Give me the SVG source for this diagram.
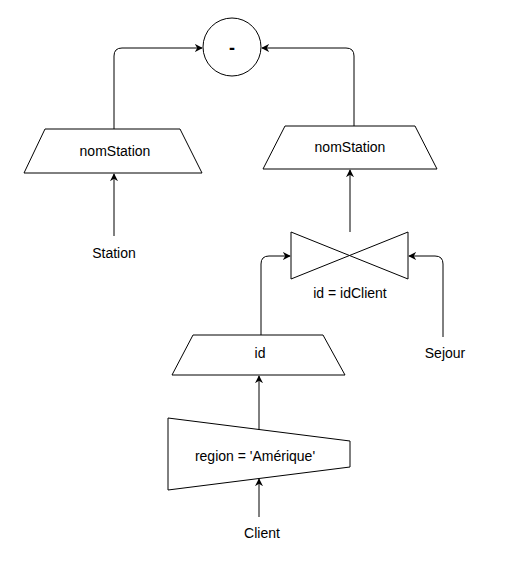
<svg xmlns="http://www.w3.org/2000/svg" width="507" height="562" viewBox="0 0 507 562">
<style>
.s{fill:#fff;stroke:#000;stroke-width:1;}
.c{fill:none;stroke:#000;stroke-width:1;}
.t{font-family:"Liberation Sans",Arial,sans-serif;font-size:14px;fill:#000;text-anchor:middle;}
</style>
<defs>
<marker id="a" viewBox="0 0 10 10" refX="9" refY="5" markerWidth="8" markerHeight="8" markerUnits="userSpaceOnUse" orient="auto">
<path d="M0,0 L10,5 L0,10 L3,5 Z" fill="#000"/>
</marker>
</defs>
<g id="minus">
<circle class="s" cx="232" cy="47" r="29"/>
<text class="t" x="232" y="54" style="font-weight:bold;font-size:18px">-</text>
</g>
<g id="proj1">
<path class="s" d="M45,129 L180,129 L202,173 L24,173 Z"/>
<text class="t" x="115" y="156">nomStation</text>
</g>
<g id="proj2">
<path class="s" d="M285,126 L415,126 L437,169 L263,169 Z"/>
<text class="t" x="350" y="152">nomStation</text>
</g>
<g id="station"><text class="t" x="114" y="258">Station</text></g>
<g id="join">
<path class="s" d="M291,232 L408,279 L408,232 L291,279 Z"/>
<text class="t" x="350" y="298">id = idClient</text>
</g>
<g id="sejour"><text class="t" x="445" y="358">Sejour</text></g>
<g id="proj3">
<path class="s" d="M193,335 L323,335 L345,375 L172,375 Z"/>
<text class="t" x="260" y="358">id</text>
</g>
<g id="select">
<path class="s" d="M168,418 L350,441 L350,467 L168,490 Z"/>
<text class="t" x="255" y="461">region = 'Amérique'</text>
</g>
<g id="client"><text class="t" x="262" y="538">Client</text></g>
<g id="connectors">
<path class="c" d="M114,129 L114,56 Q114,48 122,48 L202,48" marker-end="url(#a)"/>
<path class="c" d="M354,126 L354,56 Q354,48 346,48 L262,48" marker-end="url(#a)"/>
<path class="c" d="M114,236 L114,174" marker-end="url(#a)"/>
<path class="c" d="M350,232 L350,170" marker-end="url(#a)"/>
<path class="c" d="M261,335 L261,264 Q261,256 269,256 L290,256" marker-end="url(#a)"/>
<path class="c" d="M443,337 L443,264 Q443,256 435,256 L409,256" marker-end="url(#a)"/>
<path class="c" d="M259,430 L259,376" marker-end="url(#a)"/>
<path class="c" d="M259,517 L259,479" marker-end="url(#a)"/>
</g>
</svg>
